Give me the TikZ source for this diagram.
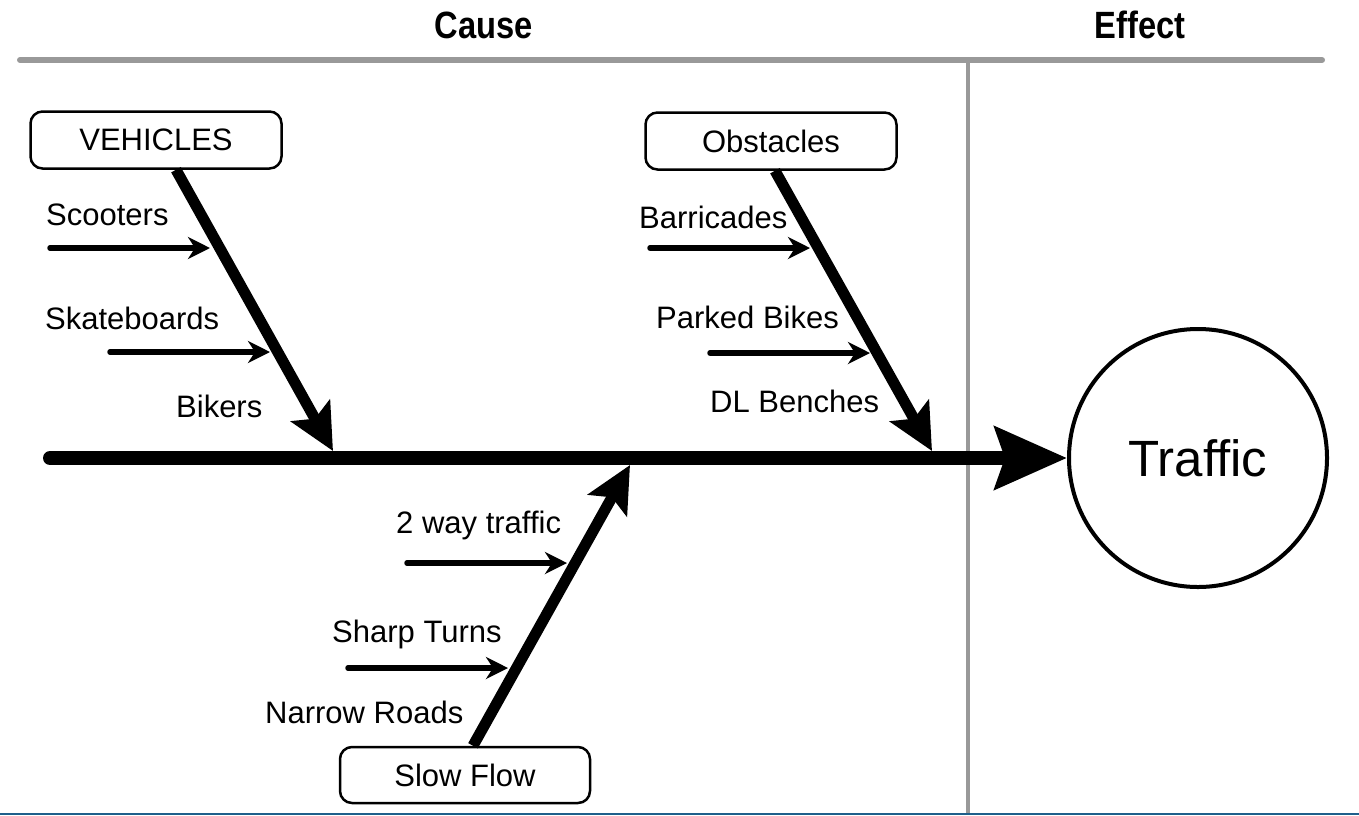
\documentclass[tikz,border=0pt]{standalone}
\usepackage{fontspec}
\setmainfont{Liberation Sans}
\newfontfamily\headfont{Liberation Sans Bold}[FakeStretch=0.86]
\usetikzlibrary{arrows.meta}

\tikzset{
  heading/.style={font=\fontsize{38}{44}\headfont},
  catbox/.style={draw, line width=2.5pt, rounded corners=12pt, minimum width=251pt,
    minimum height=57pt, inner sep=0pt, font=\fontsize{31}{36}\selectfont},
  causetext/.style={anchor=base west, inner sep=0pt, font=\fontsize{31}{36}\selectfont},
  subarrow/.style={line width=5.5pt, line cap=round, -{Stealth[length=22pt,width=22pt,inset=7pt]}},
  bone/.style={line width=11pt, -{Stealth[length=46pt,width=44pt,inset=9pt]}},
  spine/.style={line width=14pt, line cap=round, -{Stealth[length=72pt,width=62pt,inset=10pt]}},
  divider/.style={draw=black!40, line width=6pt, line cap=round},
}

\begin{document}
\begin{tikzpicture}[x=1pt, y=-1pt]
  \useasboundingbox (0,0) rectangle (1359,815);

  % Headings and frame
  \node[heading] (Cause) at (484,25) {Cause};
  \node[heading] (Effect) at (1140,25) {Effect};
  \coordinate (TopL) at (20,60);
  \coordinate (TopR) at (1322,60);
  \coordinate (DivTop) at (968,60);
  \coordinate (DivBot) at (968,815);
  \draw[divider] (TopL) -- (TopR);
  \draw[divider, line width=4pt, line cap=butt] (DivTop) -- (DivBot);
  \draw[color={rgb,255:red,31;green,95;blue,139}, line width=2pt] (0,814) -- (1359,814);

  % Nodes
  \node[catbox] (Vehicles) at (156,140) {VEHICLES};
  \node[catbox] (Obstacles) at (771,141) {Obstacles};
  \node[catbox, minimum width=250pt, minimum height=56pt] (SlowFlow) at (465,775) {Slow Flow};
  \node[draw, circle, line width=4pt, minimum size=258pt, inner sep=0pt,
        font=\fontsize{51}{60}\selectfont] (Traffic) at (1198,458) {Traffic};

  % Spine
  \coordinate (SpineStart) at (50,458);
  \draw[spine] (SpineStart) -- (Traffic.west);

  % Bones
  \coordinate (VehJoin) at (333,451);
  \coordinate (ObsJoin) at (932,451);
  \coordinate (FlowJoin) at (630,465);
  \draw[bone] ([xshift=20pt]Vehicles.south) -- (VehJoin);
  \draw[bone] ([xshift=4pt]Obstacles.south) -- (ObsJoin);
  \draw[bone] ([xshift=8pt]SlowFlow.north) -- (FlowJoin);

  % Causes
  \node[causetext] (Scooters) at (46,225) {Scooters};
  \node[causetext] (Skateboards) at (45,329) {Skateboards};
  \node[causetext] (Bikers) at (176,417) {Bikers};
  \node[causetext] (Barricades) at (639,228) {Barricades};
  \node[causetext] (ParkedBikes) at (656,328) {Parked Bikes};
  \node[causetext] (DLBenches) at (710,412) {DL Benches};
  \node[causetext] (TwoWay) at (396,533) {2 way traffic};
  \node[causetext] (SharpTurns) at (332,642) {Sharp Turns};
  \node[causetext] (NarrowRoads) at (265,723) {Narrow Roads};

  % Small arrows
  \coordinate (ScootersS) at (50,248);    \coordinate (ScootersE) at (210,248);
  \coordinate (SkateS) at (110,352);      \coordinate (SkateE) at (270,352);
  \coordinate (BarricS) at (650,248);     \coordinate (BarricE) at (810,248);
  \coordinate (ParkedS) at (710,353);     \coordinate (ParkedE) at (870,353);
  \coordinate (TwoWayS) at (407,563);     \coordinate (TwoWayE) at (567,563);
  \coordinate (SharpS) at (348,668);      \coordinate (SharpE) at (508,668);
  \draw[subarrow] (ScootersS) -- (ScootersE);
  \draw[subarrow] (SkateS) -- (SkateE);
  \draw[subarrow] (BarricS) -- (BarricE);
  \draw[subarrow] (ParkedS) -- (ParkedE);
  \draw[subarrow] (TwoWayS) -- (TwoWayE);
  \draw[subarrow] (SharpS) -- (SharpE);
\end{tikzpicture}
\end{document}
